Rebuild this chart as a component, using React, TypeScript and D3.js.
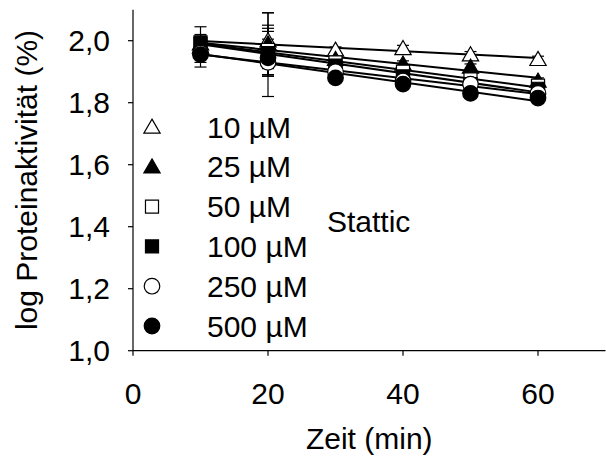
import React from "react";
import * as d3 from "d3";

const times = [10, 20, 30, 40, 50, 60];
const seriesNames = ["10 µM", "25 µM", "50 µM", "100 µM", "250 µM", "500 µM"];
const symbols = ["triangleOpen", "triangleFilled", "squareOpen", "squareFilled", "circleOpen", "circleFilled"];
const v10 = [1.99, 2.0, 1.97, 1.975, 1.955, 1.94];
const v25 = [1.98, 1.99, 1.94, 1.925, 1.915, 1.87];
const v50 = [1.99, 1.97, 1.93, 1.9, 1.875, 1.855];
const v100 = [1.995, 1.96, 1.92, 1.885, 1.86, 1.845];
const v250 = [1.96, 1.93, 1.9, 1.87, 1.86, 1.83];
const v500 = [1.955, 1.945, 1.88, 1.86, 1.83, 1.815];
const e10 = [0.02, 0.09, 0.01, 0.01, 0.01, 0.01];
const e25 = [0.02, 0.1, 0.01, 0.01, 0.01, 0.01];
const e50 = [0.03, 0.08, 0.01, 0.01, 0.01, 0.01];
const e100 = [0.05, 0.07, 0.01, 0.01, 0.01, 0.01];
const e250 = [0.03, 0.11, 0.01, 0.01, 0.01, 0.01];
const e500 = [0.04, 0.06, 0.01, 0.01, 0.01, 0.01];
const xTicks = [0, 20, 40, 60];
const yTicks = [1.0, 1.2, 1.4, 1.6, 1.8, 2.0];

const values = [v10, v25, v50, v100, v250, v500];
const errors = [e10, e25, e50, e100, e250, e500];

const W = 606, H = 467;
const x = d3.scaleLinear().domain([0, 70]).range([133, 605.5]);
const y = d3.scaleLinear().domain([1.0, 2.1]).range([350.7, 9.7]);
const FONT = "'Liberation Sans', Arial, sans-serif";
const FS = 30;

function Marker({ kind, cx, cy }: { kind: string; cx: number; cy: number }) {
  const filled = kind.endsWith("Filled");
  const fill = filled ? "#000" : "#fff";
  const isTri = kind.startsWith("triangle");
  const isSq = kind.startsWith("square");
  const shape = isTri ? d3.symbolTriangle : isSq ? d3.symbolSquare : d3.symbolCircle;
  const size = isTri ? 115 : isSq ? 170 : 190;
  const p = d3.symbol().type(shape).size(size)();
  return <path d={p || ""} transform={`translate(${cx},${cy + (isTri ? 1.5 : 0)})`} fill={fill} stroke="#000" strokeWidth={1.2} />;
}

function fit(vals: number[]) {
  const mx = d3.mean(times) as number;
  const my = d3.mean(vals) as number;
  let num = 0, den = 0;
  times.forEach((t, i) => { num += (t - mx) * (vals[i] - my); den += (t - mx) ** 2; });
  const b = num / den;
  const a = my - b * mx;
  return (t: number) => a + b * t;
}

export default function App() {
  const line = d3.line<[number, number]>().x(d => x(d[0])).y(d => y(d[1]));
  const legendY0 = 127;
  const legendStep = 39.8;
  return (
    <svg width={W} height={H} style={{ position: "absolute", left: 0, top: 0, background: "#fff" }} fontFamily={FONT}>
      <rect width={W} height={H} fill="#fff" />
      {values.map((vals, si) => (
        <g key={"e" + si} stroke="#000" strokeWidth={1.2}>
          {times.map((t, i) => {
            const e = errors[si][i];
            const cx = x(t);
            return (
              <g key={i}>
                <line x1={cx} x2={cx} y1={y(vals[i] + e)} y2={y(vals[i] - e)} />
                <line x1={cx - 6} x2={cx + 6} y1={y(vals[i] + e)} y2={y(vals[i] + e)} />
                <line x1={cx - 6} x2={cx + 6} y1={y(vals[i] - e)} y2={y(vals[i] - e)} />
              </g>
            );
          })}
        </g>
      ))}
      {values.map((vals, si) => {
        const f = fit(vals);
        return <path key={"l" + si} d={line([[times[0], f(times[0])], [times[times.length - 1], f(times[times.length - 1])]]) || ""} stroke="#000" strokeWidth={2} fill="none" />;
      })}
      {values.map((vals, si) => (
        <g key={"m" + si}>
          {times.map((t, i) => <Marker key={i} kind={symbols[si]} cx={x(t)} cy={y(vals[i])} />)}
        </g>
      ))}
      <line x1={x(0)} x2={x(0)} y1={y(2.1)} y2={y(1.0)} stroke="#000" strokeWidth={1.2} />
      <line x1={x(0)} x2={x(70)} y1={y(1.0)} y2={y(1.0)} stroke="#000" strokeWidth={1.2} />
      {yTicks.map(t => (
        <g key={"yt" + t}>
          <line x1={x(0) - 5} x2={x(0)} y1={y(t)} y2={y(t)} stroke="#000" strokeWidth={1.2} />
          <text x={110} y={y(t) + 10.5} textAnchor="end" fontSize={FS} fill="#000">{d3.format(".1f")(t).replace(".", ",")}</text>
        </g>
      ))}
      {xTicks.map(t => (
        <g key={"xt" + t}>
          <line x1={x(t)} x2={x(t)} y1={y(1.0)} y2={y(1.0) + 5} stroke="#000" strokeWidth={1.2} />
          <text x={x(t)} y={404} textAnchor="middle" fontSize={FS} fill="#000">{t}</text>
        </g>
      ))}
      <text x={x(35)} y={449} textAnchor="middle" fontSize={FS} fill="#000">Zeit (min)</text>
      <text transform={`translate(37,180) rotate(-90)`} textAnchor="middle" fontSize={FS} fill="#000">log Proteinaktivität (%)</text>
      {seriesNames.map((n, i) => (
        <g key={"lg" + i}>
          <Marker kind={symbols[i]} cx={152} cy={legendY0 + i * legendStep} />
          <text x={207} y={legendY0 + i * legendStep + 10.5} fontSize={FS} fill="#000">{n}</text>
        </g>
      ))}
      <text x={327} y={232} fontSize={FS} fill="#000">Stattic</text>
    </svg>
  );
}
